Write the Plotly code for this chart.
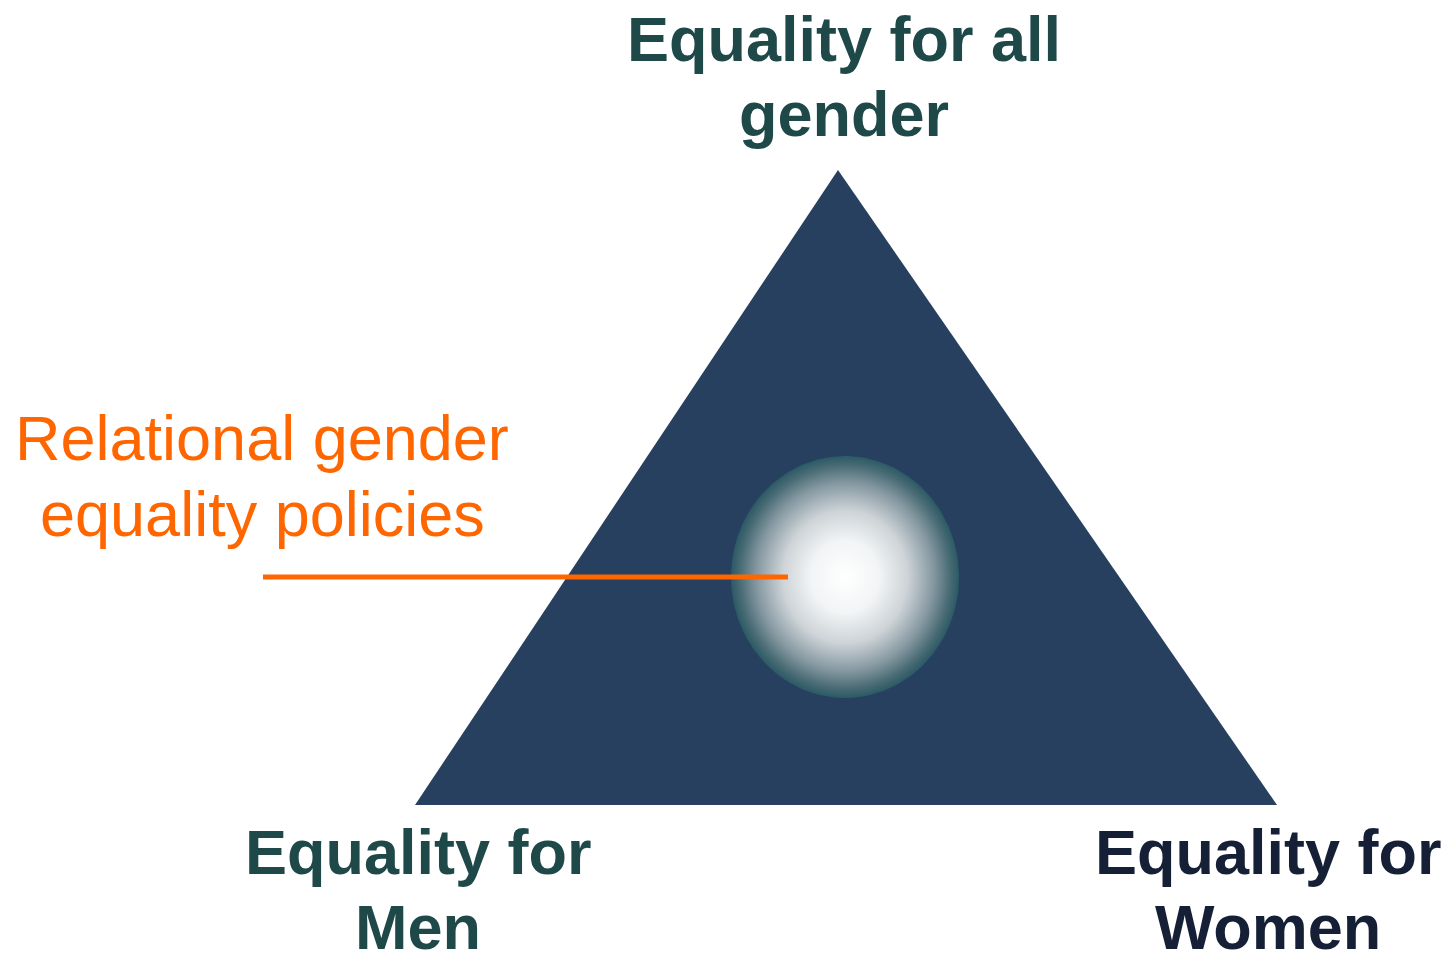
import numpy as np
import plotly.graph_objects as go

# ---- data (diagram coordinates in a 1452 x 959 canvas, y downward) ----
triangle_x = [838, 1277, 415, 838]
triangle_y = [170, 805, 805, 170]

hub_center = (845, 577)
hub_radii = (114, 121)

pointer_x = [263, 788]
pointer_y = [577, 577]

corner_labels = [
    # (lines, x center, baselines, color)
    (["Equality for all", "gender"], 844, [62, 137], "#1F4849"),
    (["Equality for", "Men"], 418, [875, 950], "#1F4849"),
    (["Equality for", "Women"], 1268, [875, 950], "#152036"),
]
policy_label = (["Relational gender", "equality policies"], 262, [461, 537], "#FF6600")

W, H = 1452, 959
PAGE_MARGIN = 8  # default body margin of the html page
FONT_SIZE = 63

fig = go.Figure()

# triangle
fig.add_trace(go.Scatter(
    x=triangle_x, y=triangle_y, mode="lines", fill="toself",
    fillcolor="#27405F", line=dict(width=0, color="#27405F"),
    hoverinfo="skip", showlegend=False))

# glowing hub (ellipse with radial gradient)
t = np.linspace(0, 2 * np.pi, 181)
cx, cy = hub_center
rx, ry = hub_radii
fig.add_trace(go.Scatter(
    x=cx + rx * np.cos(t), y=cy + ry * np.sin(t), mode="lines", fill="toself",
    fillgradient=dict(type="radial", colorscale=[
        [0.0, "#FFFFFF"], [0.3, "#F2F4F5"], [0.55, "#CDD3D7"],
        [0.78, "#8497A0"], [0.92, "#4A6C75"], [1.0, "#2B5A65"]]),
    line=dict(width=0, color="#2B5A65"),
    hoverinfo="skip", showlegend=False))

# pointer line
fig.add_trace(go.Scatter(
    x=pointer_x, y=pointer_y, mode="lines",
    line=dict(color="#FF6600", width=5),
    hoverinfo="skip", showlegend=False))


def add_label(lines, xc, baselines, color, bold):
    for txt, b in zip(lines, baselines):
        fig.add_annotation(
            x=xc, y=b - 23, xref="x", yref="y", text=f"<b>{txt}</b>" if bold else txt,
            showarrow=False, xanchor="center", yanchor="middle",
            font=dict(family="Liberation Sans, Arial, sans-serif", size=FONT_SIZE, color=color))


for lines, xc, bl, col in corner_labels:
    add_label(lines, xc, bl, col, True)
add_label(*policy_label, False)

fig.update_layout(
    width=W - 2 * PAGE_MARGIN, height=H - 2 * PAGE_MARGIN,
    margin=dict(l=0, r=0, t=0, b=0),
    paper_bgcolor="white", plot_bgcolor="white",
    xaxis=dict(range=[PAGE_MARGIN, W - PAGE_MARGIN], visible=False, fixedrange=True),
    yaxis=dict(range=[H - PAGE_MARGIN, PAGE_MARGIN], visible=False, fixedrange=True),
)

fig.write_html("out.html")
